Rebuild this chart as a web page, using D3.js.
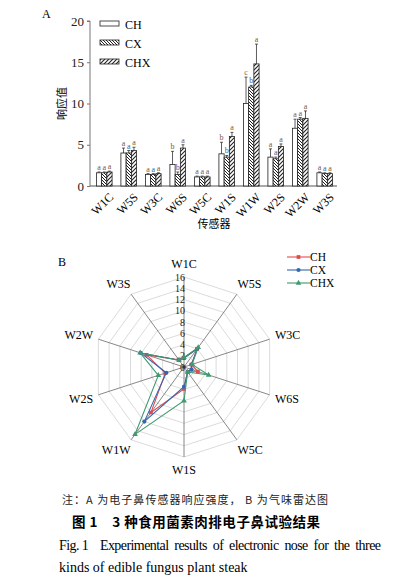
<!DOCTYPE html>
<html>
<head>
<meta charset="utf-8">
<script src="https://cdn.jsdelivr.net/npm/d3@7"></script>
<style>
  html, body { margin: 0; padding: 0; background: #fff; }
  svg { display: block; font-family: "Liberation Serif", "DejaVu Serif", serif; }
</style>
</head>
<body>
<svg id="fig" width="398" height="577"></svg>
<script>
// ------- data -------
const sensors = ["W1C", "W5S", "W3C", "W6S", "W5C", "W1S", "W1W", "W2S", "W2W", "W3S"];
const groups = ["CH", "CX", "CHX"];
const chMean  = [1.6, 4.0, 1.4, 2.6, 1.1, 3.9, 10.0, 3.5, 7.0, 1.6];
const cxMean  = [1.6, 4.0, 1.4, 1.4, 1.1, 3.5, 12.0, 3.3, 8.1, 1.5];
const chxMean = [1.7, 4.3, 1.5, 4.6, 1.1, 6.0, 14.8, 4.8, 8.2, 1.5];
const chErr   = [0.1, 0.6, 0.1, 1.6, 0.1, 1.4, 3.2, 1.0, 1.1, 0.1];
const cxErr   = [0.1, 0.3, 0.1, 0.3, 0.1, 0.2, 0.2, 0.2, 0.2, 0.1];
const chxErr  = [0.1, 0.4, 0.1, 0.4, 0.1, 0.5, 2.4, 0.3, 0.9, 0.1];
const chSig   = ["a", "a", "a", "b", "a", "b", "c", "a", "a", "a"];
const cxSig   = ["a", "a", "a", "b", "a", "b", "b", "a", "a", "a"];
const chxSig  = ["a", "a", "a", "a", "a", "a", "a", "a", "a", "a"];
const barTicks = [0, 5, 10, 15, 20];
const radarTicks = [0, 2, 4, 6, 8, 10, 12, 14, 16];

const series = [
  { name: "CH",  mean: chMean,  err: chErr,  sig: chSig,  fill: "#fff",        line: "#e04b4b", sigColor: "#7a5a3a" },
  { name: "CX",  mean: cxMean,  err: cxErr,  sig: cxSig,  fill: "url(#patCX)", line: "#3567b0", sigColor: "#3a5f9a" },
  { name: "CHX", mean: chxMean, err: chxErr, sig: chxSig, fill: "url(#patCHX)",line: "#3f9a6e", sigColor: "#7a5a3a" }
];

const svg = d3.select("#fig");

// ------- patterns -------
const defs = svg.append("defs");
const p1 = defs.append("pattern").attr("id", "patCX").attr("patternUnits", "userSpaceOnUse")
  .attr("width", 3).attr("height", 3);
p1.append("rect").attr("width", 3).attr("height", 3).attr("fill", "#fff");
p1.append("path").attr("d", "M0,0 L3,3 M-1,2 L1,4 M2,-1 L4,1").attr("stroke", "#222").attr("stroke-width", 1);
const p2 = defs.append("pattern").attr("id", "patCHX").attr("patternUnits", "userSpaceOnUse")
  .attr("width", 4).attr("height", 4);
p2.append("rect").attr("width", 4).attr("height", 4).attr("fill", "#fff");
p2.append("path").attr("d", "M0,4 L4,0 M-1,1 L1,-1 M3,5 L5,3").attr("stroke", "#222").attr("stroke-width", 1.1);

// ------- panel A: bars -------
const x = d3.scaleBand().domain(sensors).range([92, 337]).paddingInner(0.36).paddingOuter(0.18);
const xs = d3.scaleBand().domain(groups).range([0, x.bandwidth()]);
const y = d3.scaleLinear().domain([0, 20]).range([186, 21]);

svg.append("text").attr("x", 42).attr("y", 18).style("font-size", "12px").text("A");

const yAx = svg.append("g").attr("transform", "translate(90,0)")
  .call(d3.axisLeft(y).tickValues(barTicks).tickSize(3).tickPadding(3));
yAx.select(".domain").attr("stroke", "#777").attr("d", `M-3,${y(20)}H0V${y(0)}`);
yAx.selectAll("line").attr("stroke", "#777");
yAx.selectAll("text").style("font-size", "13px").style("font-family", "Liberation Serif").attr("fill", "#222");

svg.append("line").attr("x1", 90).attr("x2", 337).attr("y1", y(0)).attr("y2", y(0))
  .attr("stroke", "#555").attr("stroke-width", 1);

svg.append("text")
  .attr("transform", `translate(66,${y(10)}) rotate(-90)`)
  .attr("text-anchor", "middle")
  .style("font-family", "Noto Sans CJK SC").style("font-size", "11px")
  .text("响应值");

sensors.forEach((s) => {
  svg.append("text")
    .attr("transform", `translate(${x(s) + x.bandwidth() / 2 + 4},${y(0) + 6}) rotate(-45)`)
    .attr("text-anchor", "end")
    .attr("dy", "0.7em")
    .style("font-size", "12px")
    .text(s);
});

svg.append("text").attr("x", 214).attr("y", 228).attr("text-anchor", "middle")
  .style("font-family", "Noto Sans CJK SC").style("font-size", "11px").text("传感器");

series.forEach((sr) => {
  const g = svg.append("g");
  const bw = xs.bandwidth();
  sensors.forEach((s, i) => {
    const bx = x(s) + xs(sr.name);
    const top = y(sr.mean[i] + sr.err[i]);
    g.append("line").attr("x1", bx + bw / 2).attr("x2", bx + bw / 2)
      .attr("y1", y(sr.mean[i])).attr("y2", top).attr("stroke", "#333").attr("stroke-width", 0.8);
    g.append("line").attr("x1", bx + bw / 2 - 1.5).attr("x2", bx + bw / 2 + 1.5)
      .attr("y1", top).attr("y2", top).attr("stroke", "#333").attr("stroke-width", 0.8);
    g.append("rect").attr("x", bx).attr("y", y(sr.mean[i])).attr("width", bw)
      .attr("height", y(0) - y(sr.mean[i])).attr("fill", sr.fill)
      .attr("stroke", "#222").attr("stroke-width", 0.8);
    g.append("text").attr("x", bx + bw / 2).attr("y", top - 2).attr("text-anchor", "middle")
      .attr("fill", sr.sigColor).style("font-size", "8px").text(sr.sig[i]);
  });
});

// legend A
series.forEach((sr, i) => {
  const ly = [24, 43, 62][i];
  svg.append("rect").attr("x", 100).attr("y", ly - 3).attr("width", 19).attr("height", 5)
    .attr("fill", sr.fill).attr("stroke", "#222").attr("stroke-width", 0.8);
  svg.append("text").attr("x", 125).attr("y", ly + 4.5).style("font-size", "12px").text(sr.name);
});

// ------- panel B: radar -------
const cx = 184, cy = 367;
const r = d3.scaleLinear().domain([0, 16]).range([0, 90]);
const ang = (i) => (i / sensors.length) * 2 * Math.PI;
const pt = (i, v) => [cx + Math.sin(ang(i)) * r(v), cy - Math.cos(ang(i)) * r(v)];

svg.append("text").attr("x", 58).attr("y", 266).style("font-size", "12px").text("B");

const rg = svg.append("g");
radarTicks.slice(1).forEach((t) => {
  rg.append("path")
    .attr("d", d3.line()(sensors.map((s, i) => pt(i, t))) + "Z")
    .attr("fill", "none").attr("stroke", "#d2d2d2").attr("stroke-width", 0.8);
});
sensors.forEach((s, i) => {
  const [ex, ey] = pt(i, 16);
  rg.append("line").attr("x1", cx).attr("y1", cy).attr("x2", ex).attr("y2", ey)
    .attr("stroke", "#6a6a6a").attr("stroke-width", 0.8);
  const [lx, ly] = pt(i, 18.3);
  const sn = Math.sin(ang(i));
  rg.append("text").attr("x", lx).attr("y", ly).attr("dy", "0.35em")
    .attr("text-anchor", Math.abs(sn) < 0.1 ? "middle" : (sn > 0 ? "start" : "end"))
    .attr("dx", Math.abs(sn) < 0.1 ? 0 : (sn > 0 ? -7 : 7))
    .style("font-size", "12px").text(s);
});
radarTicks.forEach((t) => {
  rg.append("text").attr("x", cx + 1).attr("y", cy - r(t)).attr("dy", "0.35em")
    .attr("text-anchor", "end").style("font-size", "10px").attr("fill", "#222").text(t);
});

series.forEach((sr, k) => {
  const pts = sensors.map((s, i) => pt(i, sr.mean[i]));
  rg.append("path").attr("d", d3.line()(pts) + "Z")
    .attr("fill", "none").attr("stroke", sr.line).attr("stroke-width", 1.1);
  const sym = [d3.symbolSquare, d3.symbolCircle, d3.symbolTriangle][k];
  pts.forEach((p) => {
    rg.append("path").attr("transform", `translate(${p[0]},${p[1]})`)
      .attr("d", d3.symbol().type(sym).size(14)()).attr("fill", sr.line);
  });
});
rg.append("rect").attr("x", cx - 1.5).attr("y", cy - 1.5).attr("width", 3).attr("height", 3).attr("fill", "#333");

// legend B
series.forEach((sr, k) => {
  const ly = 257 + k * 13;
  svg.append("line").attr("x1", 287).attr("x2", 310).attr("y1", ly).attr("y2", ly)
    .attr("stroke", sr.line).attr("stroke-width", 1.1);
  const sym = [d3.symbolSquare, d3.symbolCircle, d3.symbolTriangle][k];
  svg.append("path").attr("transform", `translate(298.5,${ly})`)
    .attr("d", d3.symbol().type(sym).size(14)()).attr("fill", sr.line);
  svg.append("text").attr("x", 310).attr("y", ly + 4).style("font-size", "11.5px").text(sr.name);
});

// ------- captions -------
svg.append("text").attr("x", 62).attr("y", 504).attr("textLength", 266).attr("lengthAdjust", "spacing")
  .style("font-family", "Noto Sans CJK SC").style("font-size", "11px").attr("fill", "#222")
  .text("注：A 为电子鼻传感器响应强度， B 为气味雷达图");
svg.append("text").attr("x", 72).attr("y", 527).attr("textLength", 248).attr("lengthAdjust", "spacing")
  .style("font-family", "Noto Sans CJK SC").style("font-size", "13.5px").style("font-weight", "bold")
  .text("图 1　3 种食用菌素肉排电子鼻试验结果");
svg.append("text").attr("x", 59).attr("y", 550).attr("textLength", 322).attr("lengthAdjust", "spacing")
  .style("font-size", "14px").style("white-space", "pre")
  .text("Fig. 1    Experimental  results  of  electronic  nose  for  the  three");
svg.append("text").attr("x", 59).attr("y", 572)
  .style("font-size", "14px").text("kinds of edible fungus plant steak");
</script>
</body>
</html>
